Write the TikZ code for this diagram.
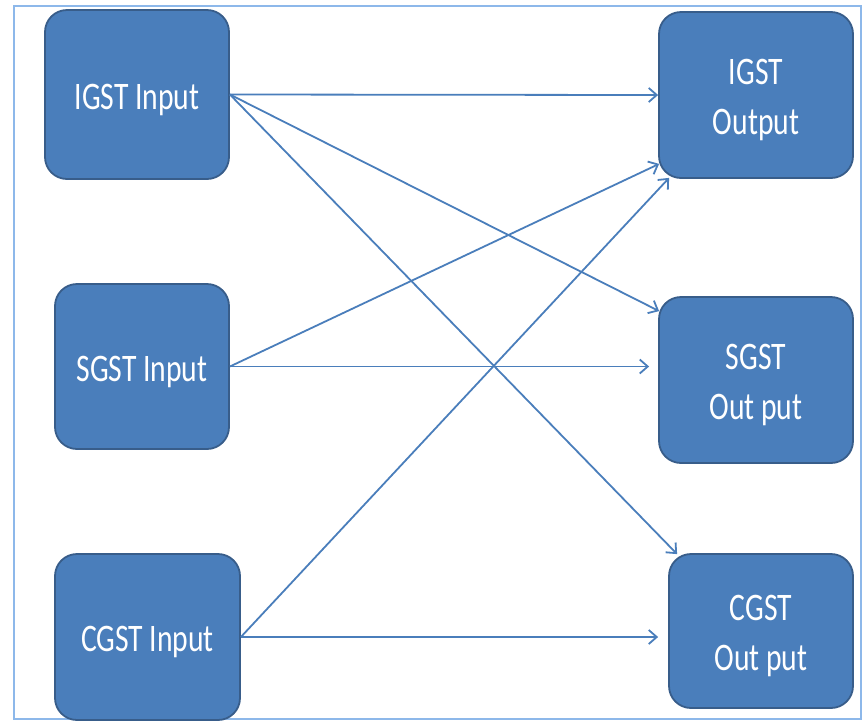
\documentclass[tikz,border=0pt]{standalone}
\usepackage{fontspec}
\newfontfamily\boxfont[FakeStretch=0.76]{Carlito}
\usetikzlibrary{arrows.meta,calc}
\definecolor{boxfill}{HTML}{4A7EBB}
\definecolor{boxline}{HTML}{385D8A}
\definecolor{arrowc}{HTML}{4A7EBB}
\definecolor{framec}{HTML}{8DB8EA}
\begin{document}
\begin{tikzpicture}[x=1pt,y=-1pt,
  box/.style={draw=boxline, line width=1.8pt, fill=boxfill, rounded corners=22pt, inner sep=0pt},
  lbl/.style={text=white, font=\boxfont\fontsize{39}{50}\selectfont, align=center, yshift=-5pt, inner sep=0pt},
  conn/.style={draw=arrowc, line width=1.8pt, -{Straight Barb[length=8pt,width=14pt]}}]
\useasboundingbox (0,0) rectangle (864,721);
\draw[framec, line width=2pt] (14,6) rectangle (861,719);
% inputs
\node[box, minimum width=184pt, minimum height=169pt, label={[lbl]center:IGST Input}] (ii) at (137,94.5) {};
\node[box, minimum width=174pt, minimum height=165pt, label={[lbl]center:SGST Input}] (si) at (142,366.5) {};
\node[box, minimum width=185pt, minimum height=166pt, label={[lbl]center:CGST Input}] (ci) at (147.5,637) {};
% outputs
\node[box, minimum width=194pt, minimum height=166pt, label={[lbl]center:IGST\\Output}] (io) at (756,95) {};
\node[box, minimum width=194pt, minimum height=166pt, label={[lbl]center:SGST\\Out put}] (so) at (756,380) {};
\node[box, minimum width=184pt, minimum height=154pt, label={[lbl]center:CGST\\Out put}] (co) at (761,631) {};
% connectors
\draw[conn] (ii.east) -- (io.west);
\draw[conn] (ii.east) -- ($(so.north west)+(1,15)$);
\draw[conn] (ii.east) -- ($(co.north west)+(9,1)$);
\draw[conn] (si.east) -- ($(io.south west)+(1,-15)$);
\draw[conn] (si.east) -- ($(si.east -| so.west)+(-9,0)$);
\draw[conn] (ci.east) -- ($(io.south west)+(11,-1)$);
\draw[conn] (ci.east) -- ($(ci.east -| co.west)+(-10,0)$);
\end{tikzpicture}
\end{document}
